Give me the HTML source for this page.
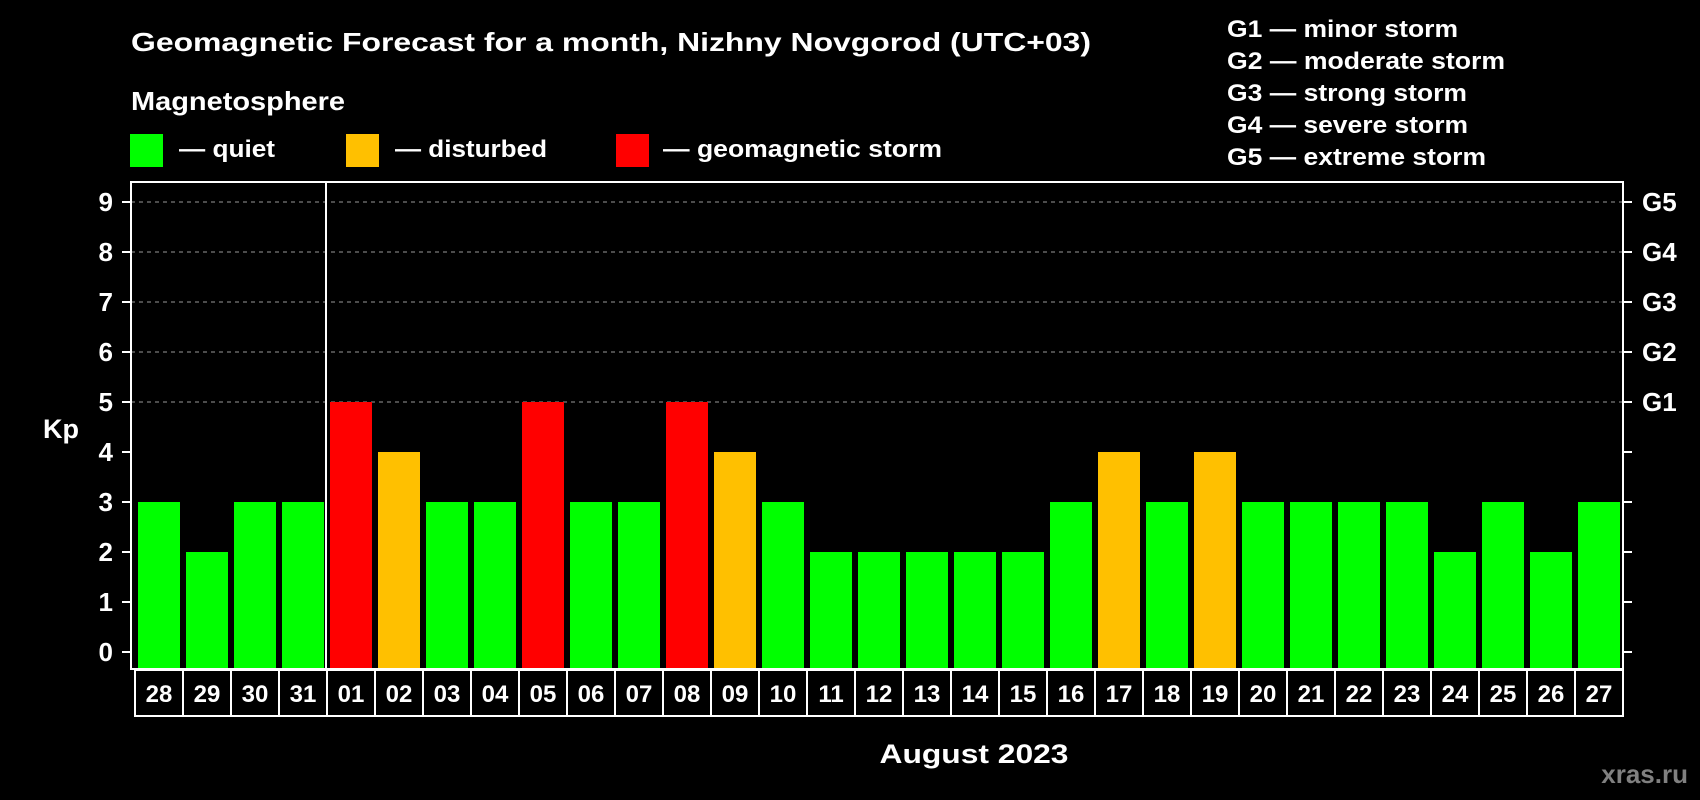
<!DOCTYPE html>
<html><head><meta charset="utf-8"><style>
html,body{margin:0;padding:0;background:#000;width:1700px;height:800px;overflow:hidden}
svg text{font-family:"Liberation Sans",Arial,sans-serif;font-weight:bold;fill:#fff}
</style></head><body>
<svg id="chart" width="1700" height="800" xmlns="http://www.w3.org/2000/svg">
<rect x="0" y="0" width="1700" height="800" fill="#000"/>
<text x="131" y="51" font-size="26" textLength="960" lengthAdjust="spacingAndGlyphs">Geomagnetic Forecast for a month, Nizhny Novgorod (UTC+03)</text>
<text x="131" y="110" font-size="26" textLength="214" lengthAdjust="spacingAndGlyphs">Magnetosphere</text>
<rect x="130" y="134" width="33" height="33" fill="#00ff00"/>
<text x="179" y="157" font-size="24" textLength="96" lengthAdjust="spacingAndGlyphs">— quiet</text>
<rect x="346" y="134" width="33" height="33" fill="#ffc000"/>
<text x="395" y="157" font-size="24" textLength="152" lengthAdjust="spacingAndGlyphs">— disturbed</text>
<rect x="616" y="134" width="33" height="33" fill="#ff0000"/>
<text x="663" y="157" font-size="24" textLength="279" lengthAdjust="spacingAndGlyphs">— geomagnetic storm</text>
<g font-size="24">
<text x="1227" y="37" textLength="231" lengthAdjust="spacingAndGlyphs">G1 — minor storm</text>
<text x="1227" y="69" textLength="278" lengthAdjust="spacingAndGlyphs">G2 — moderate storm</text>
<text x="1227" y="101" textLength="240" lengthAdjust="spacingAndGlyphs">G3 — strong storm</text>
<text x="1227" y="133" textLength="241" lengthAdjust="spacingAndGlyphs">G4 — severe storm</text>
<text x="1227" y="165" textLength="259" lengthAdjust="spacingAndGlyphs">G5 — extreme storm</text>
</g>
<text x="43" y="438" font-size="27">Kp</text>
<text x="974" y="763" font-size="27" text-anchor="middle" textLength="189" lengthAdjust="spacingAndGlyphs">August 2023</text>
<text x="1688" y="783" font-size="26" text-anchor="end" style="fill:#808080">xras.ru</text>
<g id="grid"></g><g id="bars"></g><g id="axes"></g><g id="dates"></g>
</svg>
<script>
const dayLabels=["28","29","30","31","01","02","03","04","05","06","07","08","09","10","11","12","13","14","15","16","17","18","19","20","21","22","23","24","25","26","27"];
const kpValues=[3,2,3,3,5,4,3,3,5,3,3,5,4,3,2,2,2,2,2,3,4,3,4,3,3,3,3,2,3,2,3];
const yTicks=[0,1,2,3,4,5,6,7,8,9];
const gLabels=[{v:5,t:"G1"},{v:6,t:"G2"},{v:7,t:"G3"},{v:8,t:"G4"},{v:9,t:"G5"}];
const NS="http://www.w3.org/2000/svg";
const L=131,R=1623,T=182,B=669;
const y=v=>652-v*50;
const x=i=>138+i*48;
const BW=42;
function mk(tag,attrs,parent,txt){const e=document.createElementNS(NS,tag);for(const k in attrs)e.setAttribute(k,attrs[k]);if(txt!==undefined)e.textContent=txt;parent.appendChild(e);return e;}
const grid=document.getElementById('grid'),bars=document.getElementById('bars'),axes=document.getElementById('axes'),dates=document.getElementById('dates');
gLabels.forEach(g=>{const l=mk('line',{x1:L,x2:R,y1:y(g.v),y2:y(g.v),stroke:'#999','stroke-width':1,'stroke-dasharray':'4,4'},grid);

});
kpValues.forEach((v,i)=>{const c=v>=5?'#ff0000':(v>=4?'#ffc000':'#00ff00');
const r=mk('rect',{x:x(i),y:y(v),width:BW,height:B-1-y(v),fill:c},bars);

});
const fr=mk('rect',{x:L,y:T,width:R-L,height:B-T,fill:'none',stroke:'#fff','stroke-width':2},axes);


const sep=mk('line',{x1:x(4)-4,x2:x(4)-4,y1:T,y2:B,stroke:'#fff','stroke-width':2},axes);


yTicks.forEach(t=>{mk('line',{x1:L-9,x2:L,y1:y(t),y2:y(t),stroke:'#fff','stroke-width':2},axes);
mk('line',{x1:R,x2:R+9,y1:y(t),y2:y(t),stroke:'#fff','stroke-width':2},axes);
const tx=mk('text',{x:113,y:y(t)+9,'font-size':26,'text-anchor':'end'},axes,String(t));

});
gLabels.forEach(g=>{const tx=mk('text',{x:1642,y:y(g.v)+9,'font-size':26},axes,g.t);

});
dayLabels.forEach((d,i)=>{const bx=mk('rect',{x:x(i)-3,y:670,width:48,height:46,fill:'#000',stroke:'#fff','stroke-width':2},dates);


const tx=mk('text',{x:x(i)+BW/2,y:702,'font-size':24,'text-anchor':'middle'},dates,d);

});
</script>
</body></html>
